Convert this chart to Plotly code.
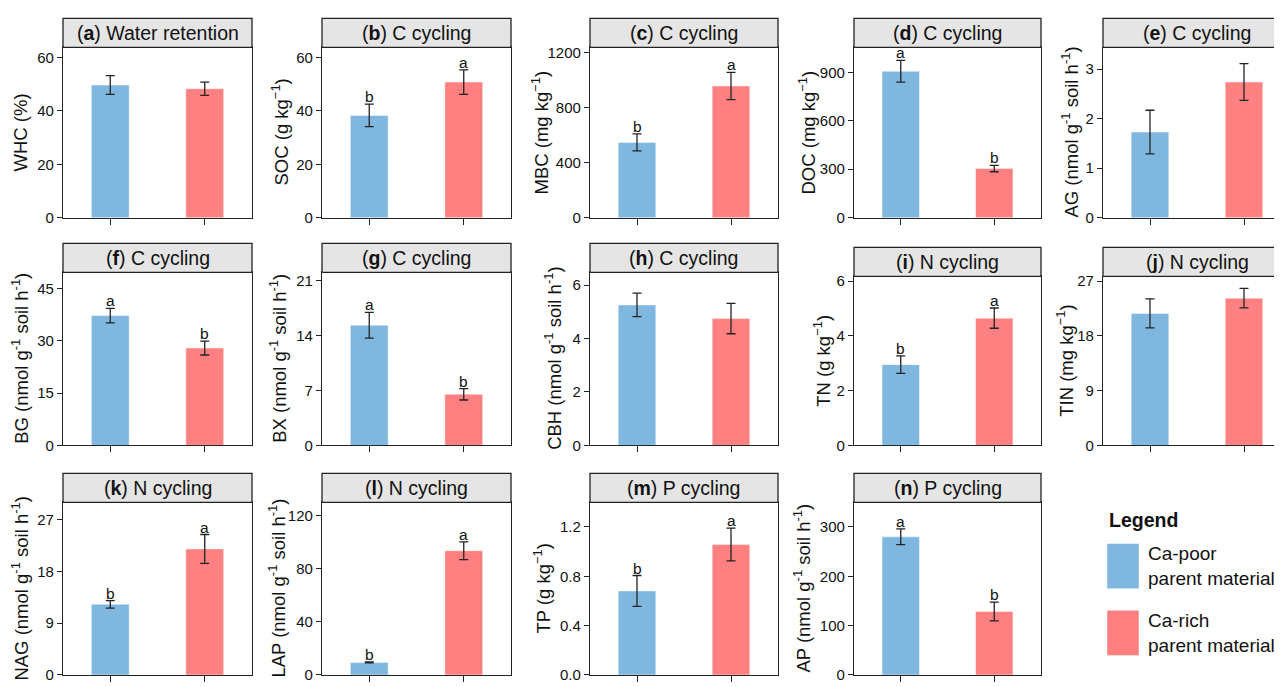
import plotly.graph_objects as go

W, H = 1282, 687
OFF = 8  # default page body margin in the exported html

# ---------------- data ----------------
panel_letters = list("abcdefghijklmn")
panel_topics = ["Water retention"] + ["C cycling"] * 7 + ["N cycling"] * 4 + ["P cycling"] * 2
enz = " (nmol g<sup>-1</sup> soil h<sup>-1</sup>)"
y_labels = [
    "WHC (%)", "SOC (g kg<sup>−1</sup>)", "MBC (mg kg<sup>−1</sup>)", "DOC (mg kg<sup>−1</sup>)", "AG" + enz,
    "BG" + enz, "BX" + enz, "CBH" + enz, "TN (g kg<sup>−1</sup>)", "TIN (mg kg<sup>−1</sup>)",
    "NAG" + enz, "LAP" + enz, "TP (g kg<sup>−1</sup>)", "AP" + enz,
]
groups = ["Ca-poor<br>parent material", "Ca-rich<br>parent material"]

poor_mean = [49.7, 38.3, 547, 906, 1.73, 37.2, 15.35, 5.26, 2.95, 21.7, 12.27, 9.4, 0.681, 280]
poor_se = [3.5, 4.2, 62, 67, 0.44, 2.1, 1.65, 0.44, 0.32, 2.4, 0.65, 0.4, 0.125, 16]
rich_mean = [48.3, 50.8, 957, 304, 2.74, 27.9, 6.52, 4.75, 4.65, 24.2, 21.9, 93.4, 1.057, 128.6]
rich_se = [2.5, 4.6, 99, 20, 0.37, 2.0, 0.73, 0.57, 0.37, 1.6, 2.5, 6.7, 0.133, 19]
poor_sig = ["", "b", "b", "a", "", "a", "a", "", "b", "", "b", "b", "b", "a"]
rich_sig = ["", "a", "a", "b", "", "b", "b", "", "a", "", "a", "a", "a", "b"]

y_ticks = [
    [0, 20, 40, 60], [0, 20, 40, 60], [0, 400, 800, 1200], [0, 300, 600, 900], [0, 1, 2, 3],
    [0, 15, 30, 45], [0, 7, 14, 21], [0, 2, 4, 6], [0, 2, 4, 6], [0, 9, 18, 27],
    [0, 9, 18, 27], [0, 40, 80, 120], [0.0, 0.4, 0.8, 1.2], [0, 100, 200, 300],
]
y_ticktext = [None] * 12 + [["0.0", "0.4", "0.8", "1.2"], None]
y_top = [63.8, 63.8, 1238, 1054, 3.44, 49.6, 22.1, 6.48, 6.18, 27.8, 30.0, 129.8, 1.40, 350]

# ---------------- style / layout geometry (page pixels) ----------------
BLUE = "#80B7DF"
RED = "#FF8080"
LINE = "#222222"
FONT = "Liberation Sans, Arial, sans-serif"

col_x = [(63, 252), (322, 511), (590, 778), (854, 1041), (1103, 1291)]
row_bottom = [217.3, 449, 682.7]
row_top = [[44] * 5, [273, 273, 273, 277, 277], [507] * 5]
strip_h = 29.5
ytitle_x = [21, 280, 540, 807, 1070, 20, 278, 553, 822, 1065, 20, 277, 542, 802]


def px(x):
    return (x - OFF) / W


def py(y):
    return 1 - (y - OFF) / H


fig = go.Figure()
layout = dict(
    width=W, height=H, margin=dict(l=0, r=0, t=0, b=0),
    paper_bgcolor="white", plot_bgcolor="white",
    font=dict(family=FONT, color="#111111", size=15),
    showlegend=False, shapes=[], annotations=[],
)

for i in range(14):
    r, c = divmod(i, 5)
    n = "" if i == 0 else str(i + 1)
    x0p, x1p = col_x[c]
    top, bot = row_top[r][c], row_bottom[r]
    x1c = min(x1p, W + OFF)
    xr_hi = 0.5 + 2.0 * (x1c - x0p) / (x1p - x0p)
    last_col = (c == 4)

    fig.add_trace(go.Bar(
        x=[1, 2], y=[poor_mean[i], rich_mean[i]],
        marker=dict(color=[BLUE, RED], line=dict(color="rgba(255,255,255,0.45)", width=1)),
        width=0.4,
        error_y=dict(type="data", array=[poor_se[i], rich_se[i]], color=LINE, thickness=1.3, width=4.5),
        xaxis="x" + n, yaxis="y" + n, hoverinfo="y",
    ))

    layout["xaxis" + n] = dict(
        domain=[px(x0p), min(px(x1c), 1.0)], anchor="y" + n, range=[0.5, xr_hi],
        showline=True, linecolor=LINE, linewidth=1.3, mirror=not last_col,
        tickvals=[1, 2], ticks="outside", ticklen=6, tickwidth=1.3, tickcolor=LINE,
        showticklabels=False, showgrid=False, zeroline=False, fixedrange=True,
    )
    ya = dict(
        domain=[max(py(bot), 0.0), py(top)], anchor="x" + n, range=[0, y_top[i]],
        showline=True, linecolor=LINE, linewidth=1.3, mirror=not last_col,
        tickvals=y_ticks[i], ticks="outside", ticklen=5, tickwidth=1.3, tickcolor=LINE,
        tickfont=dict(size=15, color="#111111"),
        showgrid=False, zeroline=False, fixedrange=True,
    )
    if y_ticktext[i] is not None:
        ya["ticktext"] = y_ticktext[i]
    layout["yaxis" + n] = ya

    # strip
    layout["shapes"].append(dict(
        type="rect", xref="paper", yref="paper",
        x0=px(x0p), x1=px(x1p + 5) if last_col else px(x1p),
        y0=py(top), y1=py(top - strip_h),
        fillcolor="#E5E5E5", line=dict(color=LINE, width=1.3), layer="above",
    ))
    layout["annotations"].append(dict(
        xref="paper", yref="paper", x=px((x0p + x1p) / 2), y=py(top - strip_h / 2),
        text="(<b>%s</b>) %s" % (panel_letters[i], panel_topics[i]),
        showarrow=False, xanchor="center", yanchor="middle",
        font=dict(size=19.5, color="#111111"),
    ))
    # y-axis title
    layout["annotations"].append(dict(
        xref="paper", yref="paper", x=px(ytitle_x[i]), y=py((top + bot) / 2),
        text=y_labels[i], textangle=-90, showarrow=False,
        xanchor="center", yanchor="middle", font=dict(size=18.5, color="#111111"),
    ))
    # significance letters
    for xv, m, s, lab in ((1, poor_mean[i], poor_se[i], poor_sig[i]), (2, rich_mean[i], rich_se[i], rich_sig[i])):
        if lab:
            layout["annotations"].append(dict(
                xref="x" + n, yref="y" + n, x=xv, y=m + s, text=lab, showarrow=False,
                xanchor="center", yanchor="bottom", yshift=-3, font=dict(size=15.5, color="#111111"),
            ))

# legend (manual)
layout["annotations"].append(dict(
    xref="paper", yref="paper", x=px(1107), y=py(525), text="<b>Legend</b>",
    showarrow=False, xanchor="left", yanchor="middle", font=dict(size=19.5, color="#111111"),
))
for k, (col, lab) in enumerate(zip([BLUE, RED], groups)):
    y0, y1 = [(549, 595), (617, 663)][k]
    layout["shapes"].append(dict(
        type="rect", xref="paper", yref="paper", x0=px(1107), x1=px(1139),
        y0=py(y1), y1=py(y0), fillcolor=col, line=dict(color="rgba(255,255,255,0.45)", width=1),
    ))
    layout["annotations"].append(dict(
        xref="paper", yref="paper", x=px(1146), y=py((y0 + y1) / 2), text=lab,
        showarrow=False, xanchor="left", yanchor="middle", align="left",
        font=dict(size=19, color="#111111"),
    ))

fig.update_layout(**layout)
fig.write_html("out.html", config={"displayModeBar": False})
